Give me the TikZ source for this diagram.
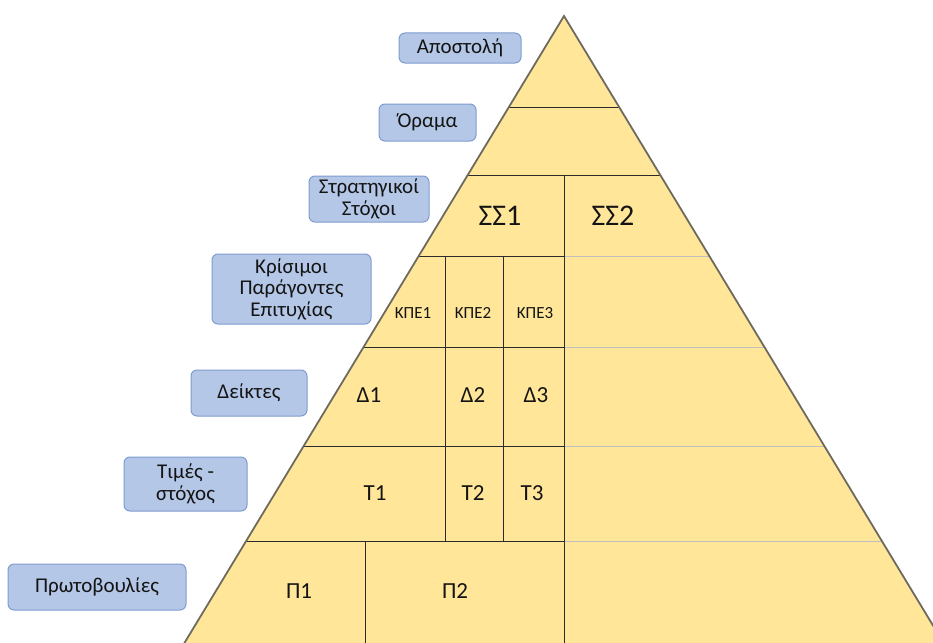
\documentclass[tikz,border=0pt]{standalone}
\usepackage{fontspec}
\setmainfont{Carlito}
\definecolor{pyrfill}{HTML}{FFE699}
\definecolor{pyredge}{HTML}{6E6A5E}
\definecolor{darkline}{HTML}{2B2B2B}
\definecolor{lightline}{HTML}{BFBFBF}
\definecolor{boxfill}{HTML}{B4C7E7}
\definecolor{boxline}{HTML}{7F9CD0}
\definecolor{txt}{HTML}{141414}
\begin{document}
\begin{tikzpicture}[x=1pt,y=-1pt,
  lbl/.style={draw=boxline, fill=boxfill, rounded corners=6pt, line width=1pt,
    font=\fontsize{21}{21.5}\selectfont, text=txt, align=center, inner sep=0pt},
  cell/.style={font=\fontsize{23}{27}\selectfont, text=txt, inner sep=0pt},
  bigcell/.style={font=\fontsize{30}{34}\selectfont, text=txt, inner sep=0pt},
  smallcell/.style={font=\fontsize{17}{19}\selectfont, text=txt, inner sep=0pt},
  dline/.style={draw=darkline, line width=0.9pt},
  gline/.style={draw=lightline, line width=0.9pt}]
\useasboundingbox (0,0) rectangle (933,642);
\begin{scope}
\clip (0,0) rectangle (933,642);
% pyramid
\coordinate (apex) at (564,16);
\coordinate (bl) at (174.1,660);
\coordinate (br) at (953.9,660);
\fill[pyrfill] (apex) -- (bl) -- (br) -- cycle;
\begin{scope}
\clip (apex) -- (bl) -- (br) -- cycle;
\draw[dline] (0,107) -- (933,107);
\draw[dline] (0,175) -- (933,175);
\foreach \yy in {256,347,446,541}{
  \draw[dline] (0,\yy) -- (564,\yy);
  \draw[gline] (564,\yy) -- (960,\yy);
}
\draw[dline] (564,175) -- (564,660);
\draw[dline] (445,256) -- (445,541);
\draw[dline] (503,256) -- (503,541);
\draw[dline] (365,541) -- (365,660);
\end{scope}
\draw[pyredge, line width=1.8pt, line join=miter] (bl) -- (apex) -- (br);
\end{scope}
% cell texts
\node[bigcell] (ss1) at (500,216) {ΣΣ1};
\node[bigcell] (ss2) at (613,216) {ΣΣ2};
\node[smallcell] (kpe1) at (413,313) {ΚΠΕ1};
\node[smallcell] (kpe2) at (473,313) {ΚΠΕ2};
\node[smallcell] (kpe3) at (535,313) {ΚΠΕ3};
\node[cell] (d1) at (369,395) {Δ1};
\node[cell] (d2) at (473,395) {Δ2};
\node[cell] (d3) at (536,395) {Δ3};
\node[cell] (t1) at (375,493) {Τ1};
\node[cell] (t2) at (473,493) {Τ2};
\node[cell] (t3) at (532,493) {Τ3};
\node[cell] (p1) at (299,591) {Π1};
\node[cell] (p2) at (455,591) {Π2};
% labels
\node[lbl, minimum width=122pt, minimum height=30pt] (apostoli) at (460,48) {Αποστολή};
\node[lbl, minimum width=97pt, minimum height=37pt] (orama) at (427.5,122.5) {Όραμα};
\node[lbl, minimum width=120pt, minimum height=46pt] (stratigikoi) at (369,199) {Στρατηγικοί\\Στόχοι};
\node[lbl, minimum width=159pt, minimum height=70pt] (kpe) at (291.5,289) {Κρίσιμοι\\Παράγοντες\\Επιτυχίας};
\node[lbl, minimum width=116pt, minimum height=46pt] (deiktes) at (249,393) {Δείκτες};
\node[lbl, minimum width=123pt, minimum height=54pt] (times) at (185.5,484) {Τιμές -\\στόχος};
\node[lbl, minimum width=178pt, minimum height=46pt] (protoboulies) at (97,587) {Πρωτοβουλίες};
\end{tikzpicture}
\end{document}
